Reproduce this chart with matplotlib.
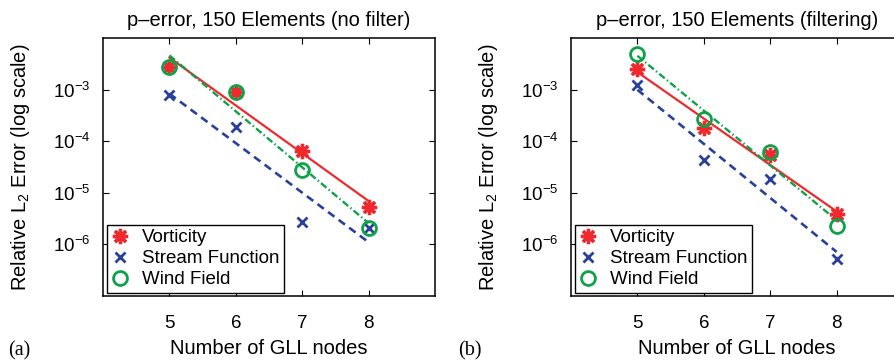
import numpy as np
import matplotlib
matplotlib.use("Agg")
import matplotlib.pyplot as plt

plt.rcParams['font.family'] = ['Liberation Sans', 'DejaVu Sans']
plt.rcParams['mathtext.fontset'] = 'custom'
plt.rcParams['mathtext.rm'] = 'Liberation Sans'
plt.rcParams['mathtext.it'] = 'Liberation Sans:italic'
plt.rcParams['mathtext.bf'] = 'Liberation Sans:bold'

# Number of GLL nodes
nodes = [5, 6, 7, 8]

# Relative L2 errors, no filter
vort_nofilter = [2.72e-3, 8.9e-4, 6.5e-5, 5.3e-6]
stream_nofilter = [8.0e-4, 1.86e-4, 2.77e-6, 2.06e-6]
wind_nofilter = [2.72e-3, 8.9e-4, 2.77e-5, 2.1e-6]

# Relative L2 errors, with filtering
vort_filter = [2.53e-3, 1.78e-4, 5.3e-5, 3.8e-6]
stream_filter = [1.21e-3, 4.3e-5, 1.88e-5, 5.15e-7]
wind_filter = [4.84e-3, 2.65e-4, 6.1e-5, 2.28e-6]

titles = ["p\u2013error, 150 Elements (no filter)",
          "p\u2013error, 150 Elements (filtering)"]
panel_tags = ["(a)", "(b)"]
series_names = ["Vorticity", "Stream Function", "Wind Field"]

RED = '#ee2a2e'
BLUE = '#2b3f9c'
GREEN = '#0ea24a'

W, H = 894, 361
fig = plt.figure(figsize=(W / 100, H / 100), dpi=100)

ax_w = 332 / W
ax_h = 258 / H
ax_b = (H - 296) / H
lefts = [103 / W, 571 / W]
tag_x = [8 / W, 458 / W]

asterisk = (8, 2, 0)
FS = 14.5

datasets = [(vort_nofilter, stream_nofilter, wind_nofilter),
            (vort_filter, stream_filter, wind_filter)]


def loglog_fit(x, y):
    x = np.asarray(x, float)
    p = np.polyfit(x, np.log10(y), 1)
    return x, 10 ** np.polyval(p, x)


for i, (vort, stream, wind) in enumerate(datasets):
    ax = fig.add_axes([lefts[i], ax_b, ax_w, ax_h])
    ax.set_yscale('log')

    # least-squares trend lines in log space
    fx, fy = loglog_fit(nodes, vort)
    ax.plot(fx, fy, color=RED, lw=1.6, ls='-')
    fx, fy = loglog_fit(nodes, stream)
    ax.plot(fx, fy, color=BLUE, lw=1.9, ls=(0, (3, 2)))
    fx, fy = loglog_fit(nodes, wind)
    ax.plot(fx, fy, color=GREEN, lw=1.7, ls=(0, (3, 1.2, 0.6, 1.2)))

    # data markers
    hv, = ax.plot(nodes, vort, ls='none', marker=asterisk, ms=11, mew=2.4,
                  color=RED, label=series_names[0])
    hs, = ax.plot(nodes, stream, ls='none', marker='x', ms=7, mew=2.0,
                  color=BLUE, label=series_names[1])
    hw, = ax.plot(nodes, wind, ls='none', marker='o', ms=10, mew=2.0,
                  mfc='none', mec=GREEN, label=series_names[2])

    ax.set_xlim(4, 9)
    ax.set_ylim(1e-7, 1e-2)
    ax.set_xticks(nodes)
    ax.set_xticklabels([str(n) for n in nodes])
    ax.set_yticks([1e-6, 1e-5, 1e-4, 1e-3])
    ax.set_yticklabels([r'$10^{-6}$', r'$10^{-5}$', r'$10^{-4}$', r'$10^{-3}$'])
    ax.minorticks_off()
    ax.tick_params(direction='in', top=True, right=True, length=4,
                   width=0.8, labelsize=13.5)
    ax.tick_params(axis='x', pad=14)
    ax.tick_params(axis='y', pad=9)
    for sp in ax.spines.values():
        sp.set_linewidth(1.1)

    ax.set_title(titles[i], fontsize=FS, pad=9)
    ax.set_xlabel("Number of GLL nodes", fontsize=FS)
    ax.xaxis.set_label_coords(0.5, -0.165)
    ax.set_ylabel(r"Relative L$_2$ Error (log scale)", fontsize=FS)
    ax.yaxis.set_label_coords(-0.213, 0.5)

    leg = ax.legend(handles=[hv, hs, hw], loc='lower left',
                    bbox_to_anchor=(0.012, 0.012), borderaxespad=0,
                    fontsize=13.5, fancybox=False, framealpha=1,
                    edgecolor='black', handlelength=0.9, handletextpad=0.7,
                    labelspacing=0.2, borderpad=0.25)
    leg.get_frame().set_linewidth(1.0)

    fig.text(tag_x[i], 6 / H, panel_tags[i], fontsize=FS,
             family=['Liberation Serif', 'DejaVu Serif'])

fig.savefig('out.png', dpi=100)
